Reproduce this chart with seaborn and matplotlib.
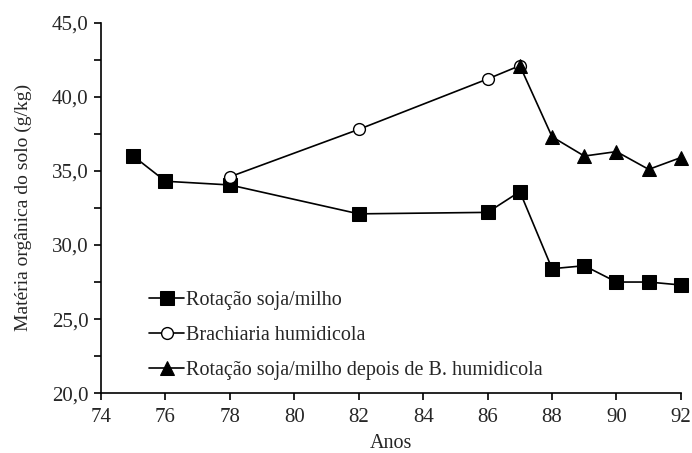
import pandas as pd
import seaborn as sns
import matplotlib.pyplot as plt
from matplotlib.ticker import MultipleLocator, FuncFormatter

# === Data ===
anos_rot = [75, 76, 78, 82, 86, 87, 88, 89, 90, 91, 92]
mo_rot = [36.0, 34.3, 34.05, 32.1, 32.2, 33.6, 28.4, 28.6, 27.5, 27.5, 27.3]

anos_bra = [78, 82, 86, 87]
mo_bra = [34.6, 37.8, 41.2, 42.1]

anos_dep = [87, 88, 89, 90, 91, 92]
mo_dep = [42.1, 37.3, 36.0, 36.3, 35.1, 35.9]

labels = ["Rotação soja/milho", "Brachiaria humidicola",
          "Rotação soja/milho depois de B. humidicola"]

# === Style ===
sns.set_style("ticks")
plt.rcParams['font.family'] = ['Liberation Serif', 'DejaVu Serif']

fig = plt.figure(figsize=(6.92, 4.53), dpi=100)
ax = fig.add_axes([0.146, 0.132, 0.838, 0.818])

sns.lineplot(x=anos_rot, y=mo_rot, ax=ax, color='black', lw=1.2,
             marker='s', markersize=9.5, markerfacecolor='black',
             markeredgecolor='black', label=labels[0], clip_on=False)
sns.lineplot(x=anos_bra, y=mo_bra, ax=ax, color='black', lw=1.2,
             marker='o', markersize=8.5, markerfacecolor='white',
             markeredgecolor='black', markeredgewidth=1.0, label=labels[1],
             clip_on=False)
sns.lineplot(x=anos_dep, y=mo_dep, ax=ax, color='black', lw=1.2,
             marker='^', markersize=9.5, markerfacecolor='black',
             markeredgecolor='black', label=labels[2], clip_on=False)

ax.set_xlim(74, 92)
ax.set_ylim(20, 45)
ax.xaxis.set_major_locator(MultipleLocator(2))
ax.yaxis.set_major_locator(MultipleLocator(5))
ax.yaxis.set_minor_locator(MultipleLocator(2.5))
ax.yaxis.set_major_formatter(FuncFormatter(lambda v, p: f"{v:.1f}".replace('.', ',')))
ax.tick_params(axis='both', which='major', labelsize=15, length=5, width=1.2,
               color='black', pad=4)
ax.tick_params(axis='x', which='major', pad=6)
ax.tick_params(axis='y', which='minor', length=5, width=1.2, color='black')
for s in ['left', 'bottom']:
    ax.spines[s].set_color('black')
    ax.spines[s].set_linewidth(1.2)
sns.despine(ax=ax)

ax.set_xlabel("Anos", fontsize=14.5, labelpad=5)
ax.set_ylabel("Matéria orgânica do solo (g/kg)", fontsize=14, labelpad=14)

ax.legend(loc='lower left', bbox_to_anchor=(0.083, 0.035), frameon=False,
          fontsize=14.5, handlelength=1.75, handletextpad=0.1,
          labelspacing=0.8, borderpad=0, borderaxespad=0)

fig.savefig("out.png", dpi=100)
